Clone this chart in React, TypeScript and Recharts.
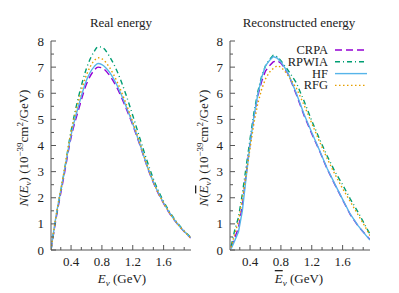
import React from 'react'
import { LineChart, Line, XAxis, YAxis, Legend } from 'recharts'

// real energy panel
const realEnergy = [0.14, 0.2, 0.3, 0.4, 0.5, 0.6, 0.7, 0.75, 0.8, 0.9, 1.0, 1.1, 1.2, 1.3, 1.4, 1.5, 1.6, 1.7, 1.8, 1.9, 1.95]
const realCRPA = [0, 1.1, 2.7, 4.3, 5.4, 6.35, 6.88, 7.0, 6.97, 6.68, 6.18, 5.52, 4.78, 3.95, 3.08, 2.36, 1.78, 1.3, 0.92, 0.6, 0.46]
const realRPWIA = [0, 1.15, 2.8, 4.55, 5.9, 6.95, 7.6, 7.78, 7.76, 7.4, 6.82, 6.05, 5.15, 4.2, 3.28, 2.48, 1.86, 1.36, 0.96, 0.63, 0.49]
const realHF = [0, 1.2, 2.8, 4.4, 5.55, 6.5, 7.02, 7.14, 7.1, 6.8, 6.28, 5.6, 4.83, 3.98, 3.1, 2.38, 1.8, 1.32, 0.93, 0.61, 0.47]
const realRFG = [0, 1.2, 2.85, 4.5, 5.75, 6.7, 7.25, 7.36, 7.32, 6.98, 6.42, 5.7, 4.9, 4.02, 3.12, 2.38, 1.8, 1.32, 0.93, 0.61, 0.47]

// reconstructed energy panel
const recoEnergy = [0.155, 0.2, 0.25, 0.3, 0.35, 0.4, 0.45, 0.5, 0.55, 0.6, 0.65, 0.7, 0.75, 0.8, 0.85, 0.9, 1.0, 1.1, 1.2, 1.3, 1.4, 1.5, 1.6, 1.7, 1.8, 1.9, 1.955]
const recoCRPA = [0.1, 0.45, 0.85, 1.7, 2.9, 4.1, 5.1, 5.9, 6.45, 6.85, 7.05, 7.2, 7.25, 7.15, 6.95, 6.7, 5.95, 5.15, 4.45, 3.8, 3.1, 2.5, 1.92, 1.35, 0.92, 0.58, 0.4]
const recoRPWIA = [0.15, 0.75, 1.25, 2.15, 3.2, 4.25, 5.25, 6.05, 6.65, 7.05, 7.28, 7.45, 7.4, 7.25, 7.05, 6.85, 6.4, 5.7, 4.95, 4.25, 3.6, 3.0, 2.5, 1.95, 1.45, 0.9, 0.6]
const recoHF = [0.05, 0.35, 0.7, 1.5, 2.8, 4.05, 5.1, 5.95, 6.6, 7.05, 7.25, 7.4, 7.35, 7.2, 6.98, 6.72, 6.0, 5.2, 4.5, 3.82, 3.12, 2.52, 1.94, 1.37, 0.93, 0.57, 0.38]
const recoRFG = [0.1, 0.6, 1.1, 1.95, 2.9, 3.9, 4.85, 5.6, 6.15, 6.55, 6.8, 6.95, 7.05, 7.0, 6.85, 6.65, 6.2, 5.55, 4.85, 4.15, 3.5, 2.9, 2.35, 1.85, 1.35, 0.85, 0.55]

const xMajorTicks = [0.4, 0.8, 1.2, 1.6]
const xMinorTicks = [0.2667, 0.5333, 0.6667, 0.9333, 1.0667, 1.3333, 1.4667, 1.7333, 1.8667]
const yMajorTicks = [0, 1, 2, 3, 4, 5, 6, 7, 8]
const yMinorTicks = [0.5, 1.5, 2.5, 3.5, 4.5, 5.5, 6.5, 7.5]

const seriesNames = ['CRPA', 'RPWIA', 'HF', 'RFG']
const seriesKeys = ['crpa', 'rpwia', 'hf', 'rfg']
const seriesColors = ['#9400D3', '#009E73', '#56B4E9', '#E69F00']
const seriesDash = ['7 4', '5 3 1 3', undefined, '1.5 2.5']

const FONT = 'Liberation Serif, DejaVu Serif, serif'
const AXIS = '#555'
const X_DOMAIN = [0.14, 1.955]
const xTicks = [...xMajorTicks, ...xMinorTicks].sort((a, b) => a - b)
const yTicks = [...yMajorTicks, ...yMinorTicks].sort((a, b) => a - b)

const realRows = realEnergy.map((e, i) => ({
  e,
  crpa: realCRPA[i],
  rpwia: realRPWIA[i],
  hf: realHF[i],
  rfg: realRFG[i],
}))

const recoRows = recoEnergy.map((e, i) => ({
  e,
  crpa: recoCRPA[i],
  rpwia: recoRPWIA[i],
  hf: recoHF[i],
  rfg: recoRFG[i],
}))

const isMajorX = (v: number) => xMajorTicks.some((t) => Math.abs(t - v) < 1e-6)
const isMajorY = (v: number) => Number.isInteger(v)

const textStyle = { fontFamily: FONT, fontSize: 13, fill: '#222' }

function BottomTick(props: any) {
  const { x, y, payload } = props
  const major = isMajorX(payload.value)
  return (
    <g>
      <line x1={x} x2={x} y1={y} y2={y - (major ? 5 : 3)} stroke={AXIS} />
      {major && (
        <text x={x} y={y + 16} textAnchor="middle" style={textStyle}>
          {payload.value.toFixed(1)}
        </text>
      )}
    </g>
  )
}

function TopTick(props: any) {
  const { x, y, payload } = props
  const major = isMajorX(payload.value)
  return <line x1={x} x2={x} y1={y} y2={y + (major ? 5 : 3)} stroke={AXIS} />
}

function LeftTick(props: any) {
  const { x, y, payload } = props
  const major = isMajorY(payload.value)
  return (
    <g>
      <line x1={x} x2={x + (major ? 5 : 3)} y1={y} y2={y} stroke={AXIS} />
      {major && (
        <text x={x - 7} y={y + 4.5} textAnchor="end" style={textStyle}>
          {payload.value}
        </text>
      )}
    </g>
  )
}

function RightTick(props: any) {
  const { x, y, payload } = props
  const major = isMajorY(payload.value)
  return <line x1={x} x2={x - (major ? 5 : 3)} y1={y} y2={y} stroke={AXIS} />
}

function KeyBox() {
  return (
    <svg width={100} height={50}>
      {seriesNames.map((name, i) => {
        const cy = 8 + i * 11.8
        return (
          <g key={name}>
            <text x={48} y={cy + 4} textAnchor="end" style={{ ...textStyle, fontSize: 12.5 }}>
              {name}
            </text>
            <line x1={55} x2={87} y1={cy} y2={cy} stroke={seriesColors[i]} strokeWidth={1.4} strokeDasharray={seriesDash[i]} />
          </g>
        )
      })}
    </svg>
  )
}

function Panel({ rows, width, yAxisWidth, right, curve, legend }: any) {
  return (
    <LineChart width={width} height={293} data={rows} margin={{ top: 41, right, bottom: 0, left: 0 }}>
      <XAxis
        dataKey="e"
        type="number"
        domain={X_DOMAIN}
        ticks={xTicks}
        interval={0}
        height={43}
        tickSize={0}
        tickMargin={0}
        tick={(p: any) => <BottomTick {...p} />}
        axisLine={{ stroke: AXIS }}
        allowDataOverflow
      />
      <XAxis
        xAxisId="top"
        orientation="top"
        type="number"
        domain={X_DOMAIN}
        ticks={xTicks}
        interval={0}
        height={0}
        tickSize={0}
        tickMargin={0}
        tick={(p: any) => <TopTick {...p} />}
        axisLine={{ stroke: AXIS }}
        allowDataOverflow
      />
      <YAxis
        type="number"
        domain={[0, 8]}
        ticks={yTicks}
        interval={0}
        width={yAxisWidth}
        tickSize={0}
        tickMargin={0}
        tick={(p: any) => <LeftTick {...p} />}
        axisLine={{ stroke: AXIS }}
      />
      <YAxis
        yAxisId="right"
        orientation="right"
        type="number"
        domain={[0, 8]}
        ticks={yTicks}
        interval={0}
        width={0}
        tickSize={0}
        tickMargin={0}
        tick={(p: any) => <RightTick {...p} />}
        axisLine={{ stroke: AXIS }}
      />
      {seriesKeys.map((k, i) => (
        <Line
          key={k}
          type={curve}
          dataKey={k}
          name={seriesNames[i]}
          stroke={seriesColors[i]}
          strokeWidth={1.4}
          strokeDasharray={seriesDash[i]}
          dot={false}
          isAnimationActive={false}
        />
      ))}
      {legend && (
        <Legend
          layout="vertical"
          align="center"
          verticalAlign="middle"
          wrapperStyle={{ left: 80, top: 42, width: 100 }}
          content={() => <KeyBox />}
        />
      )}
    </LineChart>
  )
}

function YLabel({ x, bar }: { x: number; bar: boolean }) {
  return (
    <text transform={`translate(${x},148) rotate(-90)`} textAnchor="middle" style={textStyle}>
      <tspan fontStyle="italic">N</tspan>
      <tspan>(</tspan>
      <tspan fontStyle="italic" style={bar ? { textDecoration: 'overline' } : undefined}>E</tspan>
      <tspan fontStyle="italic" fontSize={9} dy={3}>ν</tspan>
      <tspan dy={-3}>) (10</tspan>
      <tspan fontSize={9} dy={-5}>−39</tspan>
      <tspan dy={5}>cm</tspan>
      <tspan fontSize={9} dy={-5}>2</tspan>
      <tspan dy={5}>/GeV)</tspan>
    </text>
  )
}

function XLabel({ x, bar }: { x: number; bar: boolean }) {
  return (
    <text x={x} y={283} textAnchor="middle" style={textStyle}>
      <tspan fontStyle="italic" style={bar ? { textDecoration: 'overline' } : undefined}>E</tspan>
      <tspan fontStyle="italic" fontSize={9} dy={3}>ν</tspan>
      <tspan dy={-3}> (GeV)</tspan>
    </text>
  )
}

export default function App() {
  return (
    <div style={{ position: 'absolute', left: 0, top: 0, width: 399, height: 293, background: '#fff' }}>
      <div style={{ position: 'absolute', left: 0, top: 0 }}>
        <Panel rows={realRows} width={200} yAxisWidth={51} right={9} curve="monotone" legend={false} />
      </div>
      <div style={{ position: 'absolute', left: 200, top: 0 }}>
        <Panel rows={recoRows} width={199} yAxisWidth={30} right={29} curve="linear" legend />
      </div>
      <svg width={399} height={293} style={{ position: 'absolute', left: 0, top: 0, pointerEvents: 'none' }}>
        <text x={121} y={27} textAnchor="middle" style={textStyle}>Real energy</text>
        <text x={299} y={27} textAnchor="middle" style={textStyle}>Reconstructed energy</text>
        <XLabel x={122} bar={false} />
        <XLabel x={299} bar />
        <YLabel x={28} bar={false} />
        <YLabel x={208} bar />
      </svg>
    </div>
  )
}
